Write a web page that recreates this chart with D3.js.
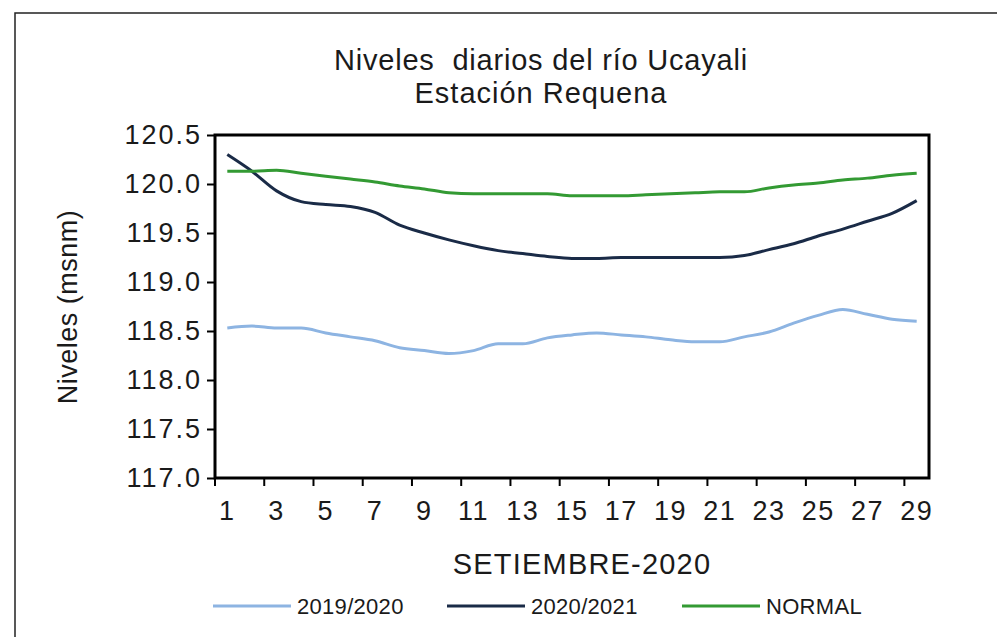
<!DOCTYPE html>
<html>
<head>
<meta charset="utf-8">
<script src="https://cdn.jsdelivr.net/npm/d3@7"></script>
<style>
  body { margin: 0; background: #fff; }
  text { font-family: "Liberation Sans", Arial, sans-serif; fill: #1a1a1a; }
</style>
</head>
<body>
<script>
// chart size = browser window
var width = 997,
    height = 637;

// days of September shown on the x axis
var days = d3.range(1, 30);

// river levels (msnm)
var y2019 = [118.53, 118.55, 118.53, 118.53, 118.48, 118.44, 118.40, 118.33, 118.30, 118.27,
             118.30, 118.37, 118.37, 118.43, 118.46, 118.48, 118.46, 118.44, 118.41, 118.39,
             118.39, 118.44, 118.49, 118.58, 118.66, 118.72, 118.67, 118.62, 118.60];
var y2020 = [120.30, 120.13, 119.93, 119.82, 119.79, 119.77, 119.71, 119.58, 119.50, 119.43,
             119.37, 119.32, 119.29, 119.26, 119.24, 119.24, 119.25, 119.25, 119.25, 119.25,
             119.25, 119.27, 119.33, 119.39, 119.47, 119.54, 119.62, 119.70, 119.83];
var normal = [120.13, 120.13, 120.14, 120.11, 120.08, 120.05, 120.02, 119.98, 119.95, 119.91,
              119.90, 119.90, 119.90, 119.90, 119.88, 119.88, 119.88, 119.89, 119.90, 119.91,
              119.92, 119.92, 119.96, 119.99, 120.01, 120.04, 120.06, 120.09, 120.11];

var yTicks = [117.0, 117.5, 118.0, 118.5, 119.0, 119.5, 120.0, 120.5];

var series = [
  {name: "2019/2020", values: y2019, color: "#8db4e2"},
  {name: "2020/2021", values: y2020, color: "#1a2b47"},
  {name: "NORMAL",    values: normal, color: "#339a33"}
];

// plot area
var plot = {left: 215, top: 135, right: 929, bottom: 478};

var svg = d3.select("body")
    .append("svg")
    .attr("width", width)
    .attr("height", height);

// outer frame of the chart object
svg.append("rect")
    .attr("x", 15).attr("y", 13)
    .attr("width", 1000).attr("height", 700)
    .attr("fill", "none")
    .attr("stroke", "#222")
    .attr("stroke-width", 1.5);

// scales
var x = d3.scaleBand()
    .domain(days)
    .range([plot.left, plot.right]);

var y = d3.scaleLinear()
    .domain([117, 120.5])
    .range([plot.bottom, plot.top]);

// title (two spaces after "Niveles" like the original)
svg.append("text")
    .attr("x", 541).attr("y", 70)
    .attr("text-anchor", "middle")
    .style("font-size", "29px")
    .style("letter-spacing", "0.8px")
    .text("Niveles\u00a0 diarios del río Ucayali");
svg.append("text")
    .attr("x", 541).attr("y", 103)
    .attr("text-anchor", "middle")
    .style("font-size", "29px")
    .style("letter-spacing", "1px")
    .text("Estación Requena");

// y axis
var yAxis = svg.append("g")
    .attr("transform", "translate(" + plot.left + ",0)")
    .call(d3.axisLeft(y).tickValues(yTicks).tickSize(8).tickPadding(7)
          .tickFormat(d3.format(".1f")));
yAxis.select(".domain").remove();
yAxis.selectAll(".tick line").attr("stroke", "#000").attr("stroke-width", 2);
yAxis.selectAll("text")
    .style("font-size", "27px")
    .style("letter-spacing", "2px")
    .attr("dx", "2px")
    .attr("fill", "#1a1a1a");

// x axis: labels on every other day, ticks between categories
var xAxis = svg.append("g")
    .attr("transform", "translate(0," + plot.bottom + ")")
    .call(d3.axisBottom(x).tickValues(days.filter(function(d) { return d % 2 === 1; }))
          .tickSize(0).tickPadding(23));
xAxis.select(".domain").remove();
xAxis.selectAll("text")
    .style("font-size", "27px")
    .style("letter-spacing", "1.5px")
    .attr("fill", "#1a1a1a");

svg.append("g")
    .selectAll("line")
    .data(days.filter(function(d) { return d % 2 === 1; }))
    .enter().append("line")
    .attr("x1", function(d) { return x(d); })
    .attr("x2", function(d) { return x(d); })
    .attr("y1", plot.bottom)
    .attr("y2", plot.bottom + 8)
    .attr("stroke", "#000")
    .attr("stroke-width", 2);

// axis titles
svg.append("text")
    .attr("x", 582).attr("y", 574)
    .attr("text-anchor", "middle")
    .style("font-size", "29px")
    .style("letter-spacing", "1.2px")
    .text("SETIEMBRE-2020");

svg.append("text")
    .attr("transform", "translate(77,307) rotate(-90)")
    .attr("text-anchor", "middle")
    .style("font-size", "27px")
    .style("letter-spacing", "0.5px")
    .text("Niveles (msnm)");

// lines
var line = d3.line()
    .x(function(d, i) { return x(days[i]) + x.bandwidth() / 2; })
    .y(function(d) { return y(d); })
    .curve(d3.curveMonotoneX);

svg.append("g")
    .selectAll("path")
    .data(series)
    .enter().append("path")
    .attr("d", function(s) { return line(s.values); })
    .attr("fill", "none")
    .attr("stroke", function(s) { return s.color; })
    .attr("stroke-width", 3);

// plot border
svg.append("rect")
    .attr("x", plot.left).attr("y", plot.top)
    .attr("width", plot.right - plot.left)
    .attr("height", plot.bottom - plot.top)
    .attr("fill", "none")
    .attr("stroke", "#000")
    .attr("stroke-width", 3);

// legend
var legendX = [213, 447, 682];
var legend = svg.append("g")
    .selectAll("g")
    .data(series)
    .enter().append("g")
    .attr("transform", function(s, i) { return "translate(" + legendX[i] + ",606)"; });

legend.append("line")
    .attr("x1", 0).attr("x2", 78)
    .attr("stroke", function(s) { return s.color; })
    .attr("stroke-width", 3);

legend.append("text")
    .attr("x", 84).attr("y", 8)
    .style("font-size", "22px")
    .style("letter-spacing", "0.3px")
    .text(function(s) { return s.name; });
</script>
</body>
</html>
